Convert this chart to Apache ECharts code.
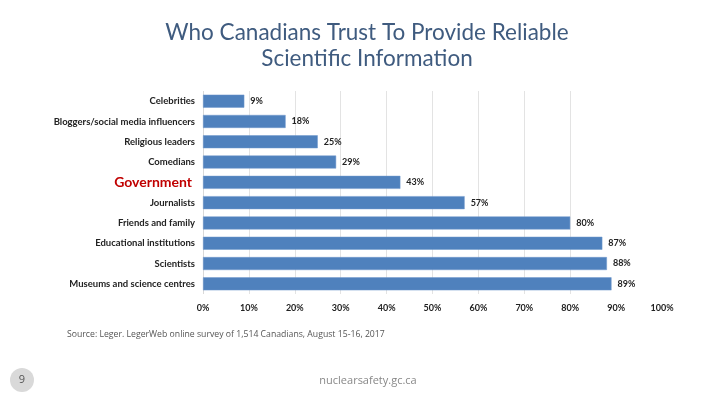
<!DOCTYPE html>
<html>
<head>
<meta charset="utf-8">
<script src="https://cdn.jsdelivr.net/npm/echarts@6/dist/echarts.min.js"></script>
<style>html,body{margin:0;padding:0;background:#fff;}#c{width:720px;height:405px;}</style>
</head>
<body>
<div id="c"></div>
<script>
const categories = ['Celebrities','Bloggers/social media influencers','Religious leaders','Comedians','Government','Journalists','Friends and family','Educational institutions','Scientists','Museums and science centres'];
const values = [9,18,25,29,43,57,80,87,88,89];
const highlighted = 'Government';
const titleText = 'Who Canadians Trust To Provide Reliable\nScientific Information';
const sourceText = 'Source: Leger. LegerWeb online survey of 1,514 Canadians, August 15-16, 2017';
const footerText = 'nuclearsafety.gc.ca';
const pageNumber = '9';

const chart = echarts.init(document.getElementById('c'));
const gridColors = ['#d9d9d9','#e3e3e3','#e3e3e3','#e3e3e3','#e3e3e3','#e3e3e3','#e3e3e3','#e3e3e3','#e3e3e3','transparent','transparent'];
chart.setOption({
  animation: false,
  backgroundColor: '#fff',
  title: {
    text: titleText,
    left: 362, top: 15, textAlign: 'center',
    textStyle: { fontFamily: 'Lato', fontSize: 22.5, fontWeight: 'normal', color: '#3f5b7f', lineHeight: 26 }
  },
  grid: { left: 203, right: 58, top: 91, bottom: 111, containLabel: false },
  xAxis: {
    type: 'value', min: 0, max: 100, interval: 10,
    axisLine: { show: false }, axisTick: { show: false },
    splitLine: { show: true, lineStyle: { color: gridColors, width: 1 } },
    axisLabel: { formatter: '{value}%', margin: 10, fontFamily: 'Lato', fontWeight: 'bold', fontSize: 9, color: '#222' }
  },
  yAxis: {
    type: 'category', data: categories, inverse: true,
    axisLine: { show: false }, axisTick: { show: false },
    axisLabel: {
      margin: 8,
      formatter: function (v) { return v === highlighted ? '{h|' + v + '}' : '{n|' + v + '}'; },
      rich: {
        n: { fontFamily: 'Lato', fontWeight: 'bold', fontSize: 9.5, color: '#222' },
        h: { fontFamily: 'Lato', fontWeight: 'bold', fontSize: 14, color: '#c00000', padding: [0, 3, 0, 0] }
      }
    }
  },
  series: [{
    type: 'bar', data: values, barCategoryGap: '36%',
    itemStyle: { color: '#4f81bd', borderColor: '#7199cc', borderWidth: 0.5 },
    label: { show: true, position: 'right', distance: 6, formatter: '{c}%', fontFamily: 'Lato', fontWeight: 'bold', fontSize: 9, color: '#222' }
  }],
  graphic: [
    { type: 'text', left: 67, top: 330, style: { text: sourceText, font: '8.7px "Open Sans"', fill: '#555' } },
    { type: 'circle', shape: { cx: 22, cy: 380, r: 12 }, style: { fill: '#d9d9d9' } },
    { type: 'text', x: 22, y: 380, style: { text: pageNumber, font: '11px "Open Sans"', fill: '#555', align: 'center', verticalAlign: 'middle' } },
    { type: 'text', x: 368, y: 381, style: { text: footerText, font: '11px "Open Sans"', fill: '#888', align: 'center', verticalAlign: 'middle' } }
  ]
});
</script>
</body>
</html>
